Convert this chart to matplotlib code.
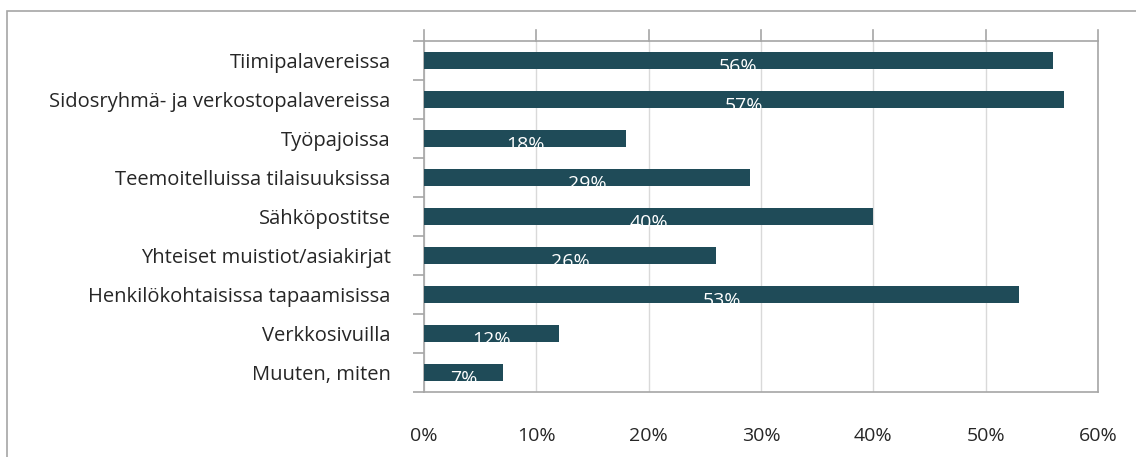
import matplotlib.pyplot as plt
from matplotlib.patches import Rectangle

categories = ['Tiimipalavereissa', 'Sidosryhmä- ja verkostopalavereissa', 'Työpajoissa',
              'Teemoitelluissa tilaisuuksissa', 'Sähköpostitse', 'Yhteiset muistiot/asiakirjat',
              'Henkilökohtaisissa tapaamisissa', 'Verkkosivuilla', 'Muuten, miten']
values = [56, 57, 18, 29, 40, 26, 53, 12, 7]
xticks = [0, 10, 20, 30, 40, 50, 60]

plt.rcParams['font.family'] = ['Open Sans', 'DejaVu Sans']
fig = plt.figure(figsize=(11.36, 4.57), dpi=100)
ax = fig.add_axes([424/1136, 1-392/457, (1098-424)/1136, (392-41)/457])

# outer chart frame
fig.patches.append(Rectangle((7/1136, -0.1), 1.2, 1-11/457+0.1, transform=fig.transFigure,
                             fill=False, edgecolor='#a6a6a6', lw=1.2))

ypos = list(range(len(categories)))
ax.barh(ypos, values, height=0.44, color='#1f4b58', zorder=3)
for y, v in zip(ypos, values):
    ax.text(v/2, y+0.16, f'{v}%', color='white', ha='center', va='center', fontsize=14, zorder=4)

ax.set_xlim(0, 60)
ax.set_ylim(len(categories)-0.5, -0.5)
ax.set_yticks(ypos)
ax.set_yticklabels(categories, fontsize=14.5, color='#262626')
ax.set_yticks([i+0.5 for i in range(-1, len(categories))], minor=True)
ax.tick_params(axis='y', which='major', length=0, pad=24)
ax.tick_params(axis='y', which='minor', length=8, color='#a6a6a6', width=1.2)

ax.set_xticks(xticks)
ax.set_xticklabels([f'{t}%' for t in xticks], fontsize=14, color='#262626')
ax.tick_params(axis='x', length=0, pad=25, top=True)
ax.grid(axis='x', color='#d9d9d9', lw=1, zorder=0)
for t in xticks:
    ax.plot([t, t], [1.0, 1.03], transform=ax.get_xaxis_transform(), color='#a6a6a6',
            lw=1.2, clip_on=False)

for s in ax.spines.values():
    s.set_color('#a6a6a6')
    s.set_linewidth(1.2)

fig.savefig('out.png', dpi=100)
